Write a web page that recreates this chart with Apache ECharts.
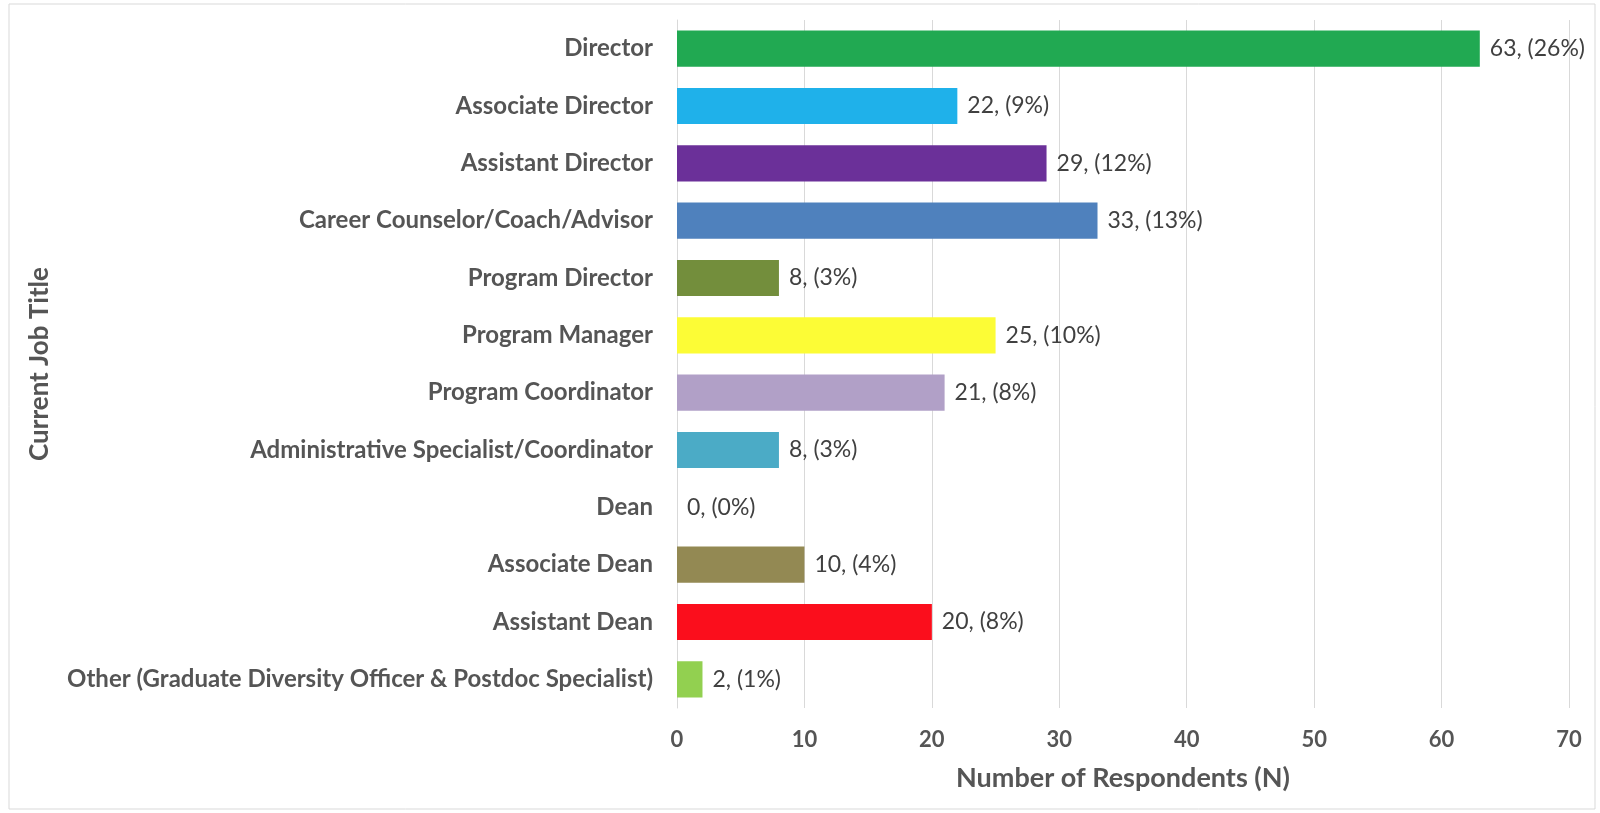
<!DOCTYPE html>
<html>
<head>
<meta charset="utf-8">
<script src="https://cdn.jsdelivr.net/npm/echarts@6/dist/echarts.min.js"></script>
<style>
  html, body { margin: 0; padding: 0; background: #ffffff; }
  #chart { width: 1600px; height: 813px; }
</style>
</head>
<body>
<div id="chart"></div>
<script>
// Job titles, listed top to bottom
const categories = [
  'Director',
  'Associate Director',
  'Assistant Director',
  'Career Counselor/Coach/Advisor',
  'Program Director',
  'Program Manager',
  'Program Coordinator',
  'Administrative Specialist/Coordinator',
  'Dean',
  'Associate Dean',
  'Assistant Dean',
  'Other (Graduate Diversity Officer & Postdoc Specialist)'
];
// Respondent counts and their share of all respondents
const counts = [63, 22, 29, 33, 8, 25, 21, 8, 0, 10, 20, 2];
const percents = [26, 9, 12, 13, 3, 10, 8, 3, 0, 4, 8, 1];
const barColors = [
  '#21a952', '#1fb1ea', '#6b3099', '#4f81bd', '#738e3c', '#fcfc36',
  '#b1a0c7', '#4babc6', '#999999', '#938953', '#fb0e1c', '#92d050'
];
const xTicks = [0, 10, 20, 30, 40, 50, 60, 70];

const FONT = 'Lato, "Open Sans", sans-serif';
const TEXT = '#555555';

const chart = echarts.init(document.getElementById('chart'), null, { renderer: 'canvas' });

const seriesData = counts.map((v, i) => ({
  value: v,
  itemStyle: { color: barColors[i] },
  label: { formatter: v + ', (' + percents[i] + '%)' }
}));

chart.setOption({
  backgroundColor: '#ffffff',
  animation: false,
  graphic: [{
    type: 'rect',
    shape: { x: 9, y: 4, width: 1586, height: 805 },
    style: { fill: 'none', stroke: '#d9d9d9', lineWidth: 1 },
    silent: true
  }],
  grid: { left: 677, right: 31, top: 20, bottom: 105, containLabel: false },
  xAxis: {
    type: 'value',
    min: xTicks[0],
    max: xTicks[xTicks.length - 1],
    interval: 10,
    name: 'Number of Respondents (N)',
    nameLocation: 'middle',
    nameGap: 57,
    nameTextStyle: { fontFamily: FONT, fontWeight: 'bold', fontSize: 27, color: TEXT },
    axisLine: { show: false },
    axisTick: { show: false },
    axisLabel: { fontFamily: FONT, fontWeight: 'bold', fontSize: 22, color: TEXT, margin: 21 },
    splitLine: { show: true, lineStyle: { color: '#d9d9d9', width: 1 } }
  },
  yAxis: {
    type: 'category',
    data: categories,
    inverse: true,
    name: 'Current Job Title',
    nameLocation: 'middle',
    nameGap: 624,
    nameTextStyle: { fontFamily: FONT, fontWeight: 'bold', fontSize: 26, color: TEXT },
    axisLine: { show: true, lineStyle: { color: '#d9d9d9', width: 1 } },
    axisTick: { show: false },
    axisLabel: { fontFamily: FONT, fontWeight: 'bold', fontSize: 24, color: TEXT, margin: 24 },
    splitLine: { show: false }
  },
  series: [{
    type: 'bar',
    data: seriesData,
    barCategoryGap: '37%',
    label: {
      show: true,
      position: 'right',
      distance: 10,
      fontFamily: FONT,
      fontSize: 23,
      color: '#404040'
    }
  }]
});
</script>
</body>
</html>
